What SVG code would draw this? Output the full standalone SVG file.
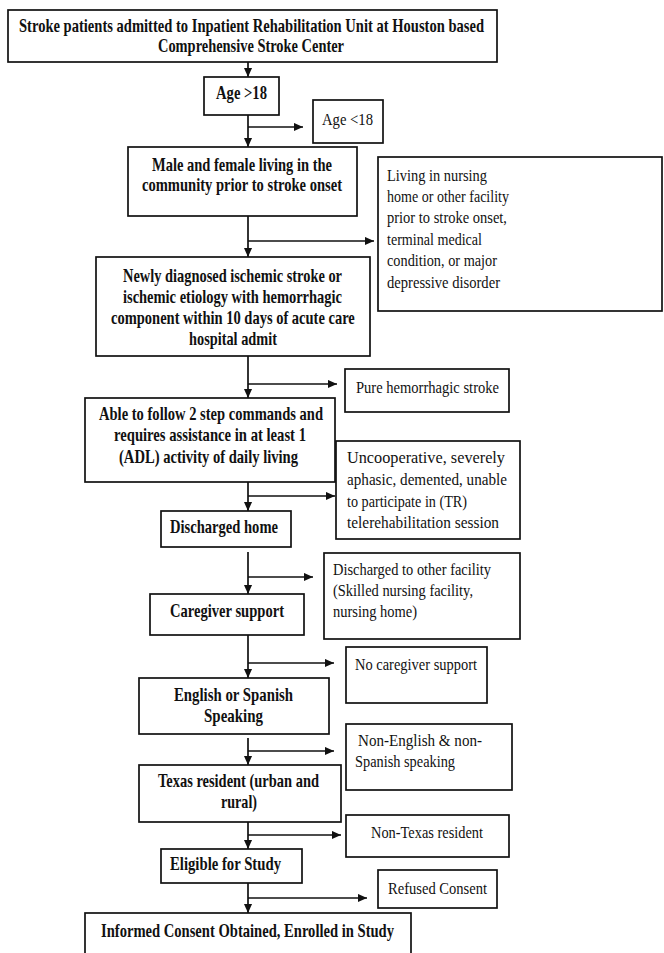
<svg xmlns="http://www.w3.org/2000/svg" width="664" height="953" viewBox="0 0 664 953">
<style>
.box{fill:#fff;stroke:#111;stroke-width:1.7}
.b{font-family:"Liberation Serif","Times New Roman",serif;font-weight:bold;font-size:19px;fill:#111}
.r{font-family:"Liberation Serif","Times New Roman",serif;font-size:17px;fill:#111}
.ln{fill:none;stroke:#111;stroke-width:1.7}
</style>
<defs>
<marker id="ah" viewBox="0 0 10 10" refX="10" refY="5" markerWidth="10" markerHeight="9" markerUnits="userSpaceOnUse" orient="auto">
<path d="M0,0.5 L10,5 L0,9.5 Z" fill="#111"/>
</marker>
</defs>
<rect width="664" height="953" fill="#fff"/>

<g id="connectors">
<line class="ln" x1="248" y1="62" x2="248" y2="77" marker-end="url(#ah)"/>
<line class="ln" x1="248" y1="115" x2="248" y2="147" marker-end="url(#ah)"/>
<line class="ln" x1="248" y1="127" x2="303" y2="127" marker-end="url(#ah)"/>
<line class="ln" x1="248" y1="216" x2="248" y2="257" marker-end="url(#ah)"/>
<line class="ln" x1="248" y1="241" x2="374" y2="241" marker-end="url(#ah)"/>
<line class="ln" x1="248" y1="356" x2="248" y2="398" marker-end="url(#ah)"/>
<line class="ln" x1="248" y1="384" x2="337" y2="384" marker-end="url(#ah)"/>
<line class="ln" x1="248" y1="482" x2="248" y2="511" marker-end="url(#ah)"/>
<line class="ln" x1="248" y1="496" x2="335" y2="496" marker-end="url(#ah)"/>
<line class="ln" x1="248" y1="552" x2="248" y2="594" marker-end="url(#ah)"/>
<line class="ln" x1="248" y1="577" x2="313" y2="577" marker-end="url(#ah)"/>
<line class="ln" x1="248" y1="635" x2="248" y2="678" marker-end="url(#ah)"/>
<line class="ln" x1="248" y1="663" x2="334" y2="663" marker-end="url(#ah)"/>
<line class="ln" x1="248" y1="738" x2="248" y2="765" marker-end="url(#ah)"/>
<line class="ln" x1="248" y1="751" x2="334" y2="751" marker-end="url(#ah)"/>
<line class="ln" x1="248" y1="822" x2="248" y2="849" marker-end="url(#ah)"/>
<line class="ln" x1="248" y1="835" x2="341" y2="835" marker-end="url(#ah)"/>
<line class="ln" x1="248" y1="883" x2="248" y2="913" marker-end="url(#ah)"/>
<line class="ln" x1="248" y1="898" x2="367" y2="898" marker-end="url(#ah)"/>
</g>

<g id="n_start">
<rect class="box" x="8" y="10" width="489" height="52"/>
<text class="b" x="19" y="32" textLength="465" lengthAdjust="spacingAndGlyphs">Stroke patients admitted to Inpatient Rehabilitation Unit at Houston based</text>
<text class="b" x="158" y="52" textLength="186" lengthAdjust="spacingAndGlyphs">Comprehensive Stroke Center</text>
</g>

<g id="n_age">
<rect class="box" x="204" y="77" width="75" height="38"/>
<text class="b" x="216" y="99" textLength="51" lengthAdjust="spacingAndGlyphs">Age &gt;18</text>
</g>

<g id="x_age">
<rect class="box" x="313" y="100" width="70" height="43"/>
<text class="r" x="322" y="125" textLength="51" lengthAdjust="spacingAndGlyphs">Age &lt;18</text>
</g>

<g id="n_community">
<rect class="box" x="128" y="147" width="229" height="69"/>
<text class="b" transform="translate(152,171) scale(0.73,1)" textLength="246.6" lengthAdjust="spacingAndGlyphs">Male and female living in the</text>
<text class="b" transform="translate(142,191) scale(0.73,1)" textLength="274" lengthAdjust="spacingAndGlyphs">community prior to stroke onset</text>
</g>

<g id="x_community">
<rect class="box" x="378" y="157" width="284" height="154"/>
<text class="r" x="387" y="181" textLength="100" lengthAdjust="spacingAndGlyphs">Living in nursing</text>
<text class="r" x="387" y="202" textLength="122" lengthAdjust="spacingAndGlyphs">home or other facility</text>
<text class="r" x="387" y="223" textLength="120" lengthAdjust="spacingAndGlyphs">prior to stroke onset,</text>
<text class="r" x="387" y="245" textLength="95" lengthAdjust="spacingAndGlyphs">terminal  medical</text>
<text class="r" x="387" y="266" textLength="110" lengthAdjust="spacingAndGlyphs">condition, or major</text>
<text class="r" x="387" y="288" textLength="113" lengthAdjust="spacingAndGlyphs">depressive disorder</text>
</g>

<g id="n_ischemic">
<rect class="box" x="96" y="257" width="274" height="99"/>
<text class="b" transform="translate(123,282) scale(0.73,1)" textLength="300" lengthAdjust="spacingAndGlyphs">Newly diagnosed ischemic stroke or</text>
<text class="b" transform="translate(123,303) scale(0.73,1)" textLength="300" lengthAdjust="spacingAndGlyphs">ischemic etiology with hemorrhagic</text>
<text class="b" transform="translate(111,324) scale(0.73,1)" textLength="334" lengthAdjust="spacingAndGlyphs">component within 10 days of acute care</text>
<text class="b" transform="translate(189,345) scale(0.73,1)" textLength="120.5" lengthAdjust="spacingAndGlyphs">hospital admit</text>
</g>

<g id="x_hemorrhagic">
<rect class="box" x="345" y="369" width="164" height="43"/>
<text class="r" x="356" y="393" textLength="143" lengthAdjust="spacingAndGlyphs">Pure hemorrhagic  stroke</text>
</g>

<g id="n_commands">
<rect class="box" x="85" y="398" width="250" height="84"/>
<text class="b" x="99" y="420" textLength="224" lengthAdjust="spacingAndGlyphs">Able to follow 2 step commands and</text>
<text class="b" x="114" y="441" textLength="192" lengthAdjust="spacingAndGlyphs">requires assistance in at least 1</text>
<text class="b" x="119" y="463" textLength="179" lengthAdjust="spacingAndGlyphs">(ADL) activity of daily living</text>
</g>

<g id="x_commands">
<rect class="box" x="336" y="441" width="184" height="98"/>
<text class="r" x="347" y="463" textLength="158" lengthAdjust="spacingAndGlyphs">Uncooperative,  severely</text>
<text class="r" x="347" y="485" textLength="160" lengthAdjust="spacingAndGlyphs">aphasic, demented,  unable</text>
<text class="r" x="347" y="507" textLength="120" lengthAdjust="spacingAndGlyphs">to participate  in (TR)</text>
<text class="r" x="347" y="528" textLength="152" lengthAdjust="spacingAndGlyphs">telerehabilitation  session</text>
</g>

<g id="n_home">
<rect class="box" x="161" y="511" width="130" height="36"/>
<text class="b" x="170" y="533" textLength="108" lengthAdjust="spacingAndGlyphs">Discharged home</text>
</g>

<g id="x_home">
<rect class="box" x="324" y="553" width="196" height="86"/>
<text class="r" x="333" y="575" textLength="158" lengthAdjust="spacingAndGlyphs">Discharged to other facility</text>
<text class="r" x="333" y="596" textLength="140" lengthAdjust="spacingAndGlyphs">(Skilled nursing facility,</text>
<text class="r" x="333" y="617" textLength="84" lengthAdjust="spacingAndGlyphs">nursing home)</text>
</g>

<g id="n_caregiver">
<rect class="box" x="150" y="594" width="154" height="41"/>
<text class="b" x="170" y="617" textLength="114" lengthAdjust="spacingAndGlyphs">Caregiver support</text>
</g>

<g id="x_caregiver">
<rect class="box" x="346" y="647" width="141" height="56"/>
<text class="r" x="355" y="670" textLength="122" lengthAdjust="spacingAndGlyphs">No caregiver support</text>
</g>

<g id="n_language">
<rect class="box" x="139" y="678" width="190" height="56"/>
<text class="b" x="174" y="701" textLength="119" lengthAdjust="spacingAndGlyphs">English or Spanish</text>
<text class="b" x="204" y="722" textLength="59" lengthAdjust="spacingAndGlyphs">Speaking</text>
</g>

<g id="x_language">
<rect class="box" x="346" y="724" width="166" height="66"/>
<text class="r" x="358" y="746" textLength="124" lengthAdjust="spacingAndGlyphs">Non-English &amp;  non-</text>
<text class="r" x="355" y="767" textLength="100" lengthAdjust="spacingAndGlyphs">Spanish speaking</text>
</g>

<g id="n_texas">
<rect class="box" x="139" y="765" width="202" height="57"/>
<text class="b" x="158" y="787" textLength="161" lengthAdjust="spacingAndGlyphs">Texas resident (urban and</text>
<text class="b" x="221" y="808" textLength="36" lengthAdjust="spacingAndGlyphs">rural)</text>
</g>

<g id="x_texas">
<rect class="box" x="346" y="815" width="163" height="42"/>
<text class="r" x="371" y="838" textLength="112" lengthAdjust="spacingAndGlyphs">Non-Texas resident</text>
</g>

<g id="n_eligible">
<rect class="box" x="161" y="849" width="141" height="34"/>
<text class="b" x="170" y="870" textLength="111" lengthAdjust="spacingAndGlyphs">Eligible for Study</text>
</g>

<g id="x_consent">
<rect class="box" x="378" y="870" width="119" height="38"/>
<text class="r" x="388" y="894" textLength="99" lengthAdjust="spacingAndGlyphs">Refused Consent</text>
</g>

<g id="n_enrolled">
<rect class="box" x="85" y="913" width="326" height="60"/>
<text class="b" x="101" y="937" textLength="293" lengthAdjust="spacingAndGlyphs">Informed Consent Obtained, Enrolled in Study</text>
</g>
</svg>
